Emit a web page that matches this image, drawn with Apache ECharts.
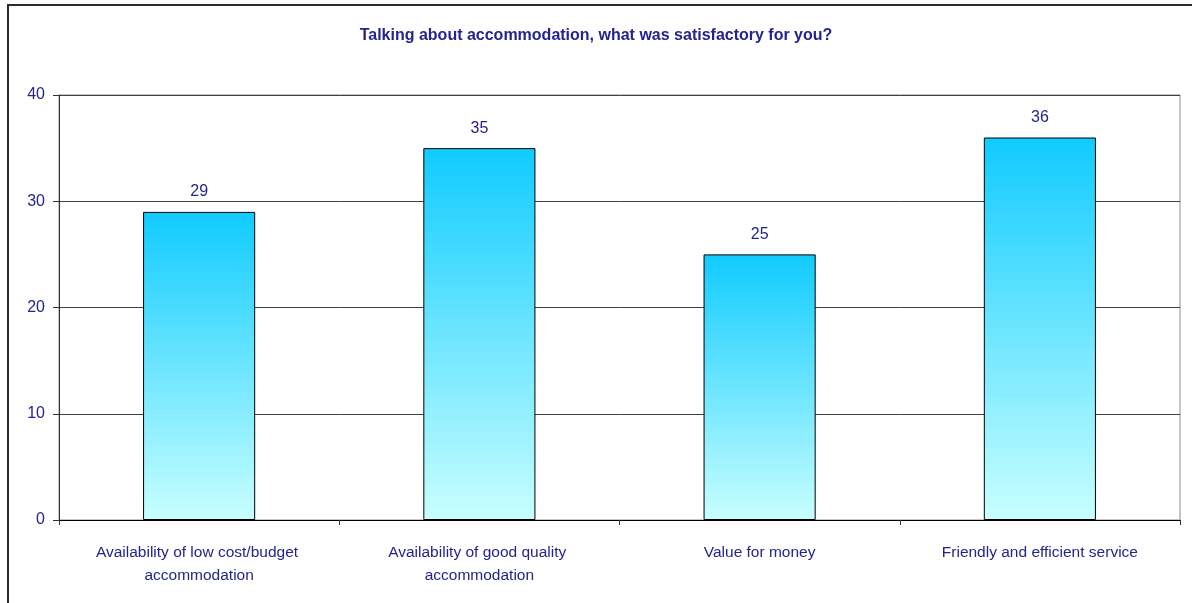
<!DOCTYPE html>
<html>
<head>
<meta charset="utf-8">
<script src="https://cdn.jsdelivr.net/npm/echarts@6/dist/echarts.min.js"></script>
<style>
  html, body { margin: 0; padding: 0; background: #ffffff; }
  #chart { width: 1192px; height: 603px; }
</style>
</head>
<body>
<div id="chart"></div>
<script>
// Survey answers: accommodation aspects rated satisfactory
const titleText = 'Talking about accommodation, what was satisfactory for you?';
const categories = [
  'Availability of low cost/budget accommodation',
  'Availability of good quality accommodation',
  'Value for money',
  'Friendly and efficient service'
];
const counts = [29, 35, 25, 36];
const yTicks = [0, 10, 20, 30, 40];

const textColor = '#24248e';
const labelFont = "'Liberation Sans Narrow', 'Arial Narrow', 'Liberation Sans', Arial, sans-serif";

const chart = echarts.init(document.getElementById('chart'), null, { renderer: 'canvas' });

chart.setOption({
  backgroundColor: '#ffffff',
  animation: false,
  title: {
    text: titleText,
    left: 'center',
    top: 23,
    textStyle: {
      color: textColor,
      fontFamily: labelFont,
      fontWeight: 'bold',
      fontSize: 16
    }
  },
  graphic: [
    {
      // frame around the whole chart (runs off the right and bottom edges)
      type: 'rect',
      shape: { x: 8, y: 5, width: 1200, height: 620 },
      style: { fill: 'none', stroke: '#2b2b2b', lineWidth: 2 },
      silent: true,
      z: -1
    }
  ],
  grid: {
    left: 59,
    right: 12,
    top: 95,
    bottom: 83,
    show: true,
    borderColor: '#8c8c8c',
    borderWidth: 1,
    containLabel: false
  },
  xAxis: {
    type: 'category',
    data: categories,
    axisLine: { lineStyle: { color: '#000000', width: 1 } },
    axisTick: { show: true, length: 5, lineStyle: { color: '#333333' } },
    axisLabel: {
      color: textColor,
      fontFamily: labelFont,
      fontSize: 15.5,
      margin: 21,
      lineHeight: 23,
      width: 225,
      overflow: 'break',
      interval: 0
    }
  },
  yAxis: {
    type: 'value',
    min: yTicks[0],
    max: yTicks[yTicks.length - 1],
    interval: 10,
    axisLine: { show: true, lineStyle: { color: '#333333', width: 1 } },
    axisTick: { show: true, length: 6, lineStyle: { color: '#333333' } },
    axisLabel: {
      color: textColor,
      fontFamily: labelFont,
      fontSize: 16,
      margin: 14
    },
    splitLine: { show: true, lineStyle: { color: '#404040', width: 1 } }
  },
  series: [
    {
      type: 'bar',
      data: counts,
      barCategoryGap: '60%',
      itemStyle: {
        color: new echarts.graphic.LinearGradient(0, 0, 0, 1, [
          { offset: 0, color: '#10cbff' },
          { offset: 1, color: '#c8ffff' }
        ], false),
        borderColor: '#000000',
        borderWidth: 1
      },
      label: {
        show: true,
        position: 'top',
        distance: 12,
        color: textColor,
        fontFamily: labelFont,
        fontSize: 16
      }
    }
  ]
});
</script>
</body>
</html>
